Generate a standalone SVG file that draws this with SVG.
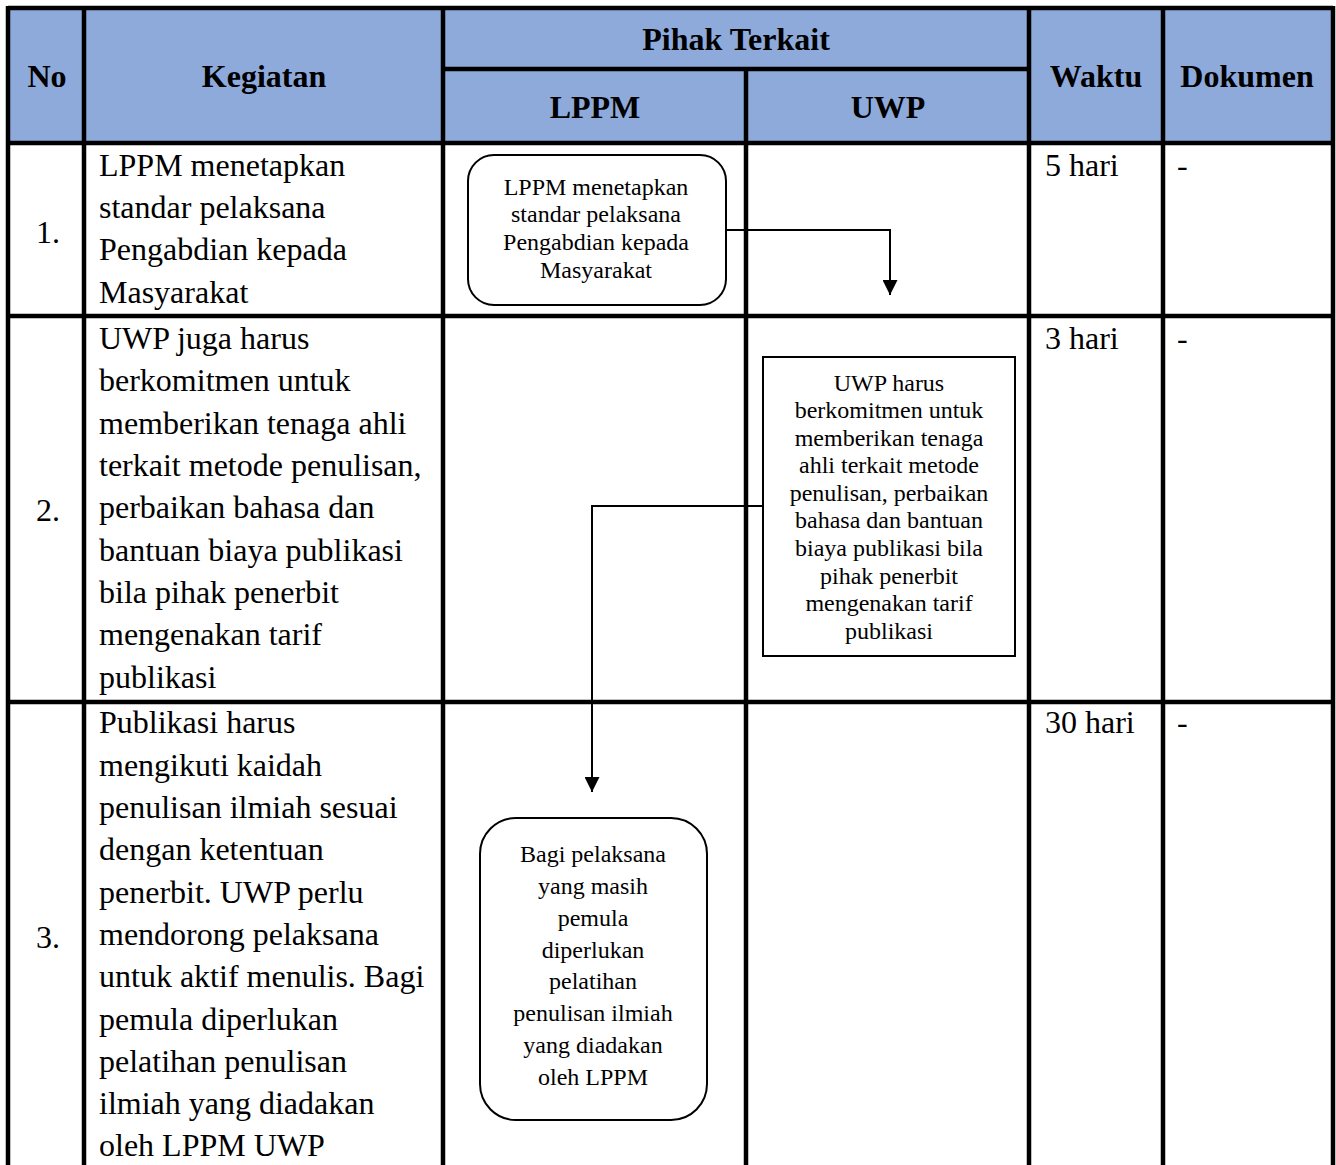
<svg xmlns="http://www.w3.org/2000/svg" width="1336" height="1165" viewBox="0 0 1336 1165">
<style>
.grid{stroke:#000;stroke-width:4.5;fill:none}
.hdr{font-family:"Liberation Serif","Times New Roman",serif;font-weight:bold;font-size:32px;fill:#000;text-anchor:middle}
.body{font-family:"Liberation Serif","Times New Roman",serif;font-size:32px;fill:#000}
.box{fill:#fff;stroke:#000;stroke-width:2}
.bt{font-family:"Liberation Serif","Times New Roman",serif;font-size:24px;fill:#000;text-anchor:middle}
.conn{stroke:#000;stroke-width:2;fill:none}
</style>
<defs>
<marker id="arr" markerUnits="userSpaceOnUse" markerWidth="16" markerHeight="15" refX="15" refY="7.5" orient="auto">
<path d="M0,0 L15,7.5 L0,15 z" fill="#000"/>
</marker>
</defs>
<rect width="1336" height="1165" fill="#fff"/>
<g id="table">
<rect x="8" y="8" width="1325" height="135" fill="#8eaadb"/>
<path class="grid" d="M8,8 H1333 M8,143 H1333 M444,69 H1029 M8,316 H1333 M8,702 H1333 M8,6 V1165 M84,6 V1165 M443,6 V1165 M746,69 V1165 M1029,6 V1165 M1163,6 V1165 M1333,6 V1165"/>
<text class="hdr" x="47" y="87">No</text>
<text class="hdr" x="264" y="87">Kegiatan</text>
<text class="hdr" x="736" y="50">Pihak Terkait</text>
<text class="hdr" x="595" y="118">LPPM</text>
<text class="hdr" x="888" y="118">UWP</text>
<text class="hdr" x="1096" y="87">Waktu</text>
<text class="hdr" x="1247" y="87">Dokumen</text>
<text class="body" x="36" y="243">1.</text>
<text class="body" x="36" y="521">2.</text>
<text class="body" x="36" y="948">3.</text>
<text class="body"><tspan x="99" y="176">LPPM menetapkan</tspan><tspan x="99" y="218">standar pelaksana</tspan><tspan x="99" y="260">Pengabdian kepada</tspan><tspan x="99" y="303">Masyarakat</tspan></text>
<text class="body"><tspan x="99" y="349">UWP juga harus</tspan><tspan x="99" y="391">berkomitmen untuk</tspan><tspan x="99" y="434">memberikan tenaga ahli</tspan><tspan x="99" y="476">terkait metode penulisan,</tspan><tspan x="99" y="518">perbaikan bahasa dan</tspan><tspan x="99" y="561">bantuan biaya publikasi</tspan><tspan x="99" y="603">bila pihak penerbit</tspan><tspan x="99" y="645">mengenakan tarif</tspan><tspan x="99" y="688">publikasi</tspan></text>
<text class="body"><tspan x="99" y="733">Publikasi harus</tspan><tspan x="99" y="776">mengikuti kaidah</tspan><tspan x="99" y="818">penulisan ilmiah sesuai</tspan><tspan x="99" y="860">dengan ketentuan</tspan><tspan x="99" y="903">penerbit. UWP perlu</tspan><tspan x="99" y="945">mendorong pelaksana</tspan><tspan x="99" y="987">untuk aktif menulis. Bagi</tspan><tspan x="99" y="1030">pemula diperlukan</tspan><tspan x="99" y="1072">pelatihan penulisan</tspan><tspan x="99" y="1114">ilmiah yang diadakan</tspan><tspan x="99" y="1156">oleh LPPM UWP</tspan></text>
<text class="body" x="1045" y="176">5 hari</text>
<text class="body" x="1045" y="349">3 hari</text>
<text class="body" x="1045" y="733">30 hari</text>
<text class="body" x="1177" y="176">-</text>
<text class="body" x="1177" y="349">-</text>
<text class="body" x="1177" y="733">-</text>
</g>
<g id="connectors">
<path class="conn" d="M726,230 H890 V295" marker-end="url(#arr)"/>
<path class="conn" d="M763,506 H592 V792" marker-end="url(#arr)"/>
</g>
<g id="node1">
<rect class="box" x="468" y="155" width="258" height="150" rx="26" ry="26"/>
<text class="bt"><tspan x="596" y="195">LPPM menetapkan</tspan><tspan x="596" y="222">standar pelaksana</tspan><tspan x="596" y="250">Pengabdian kepada</tspan><tspan x="596" y="278">Masyarakat</tspan></text>
</g>
<g id="node2">
<rect class="box" x="763" y="357" width="252" height="299"/>
<text class="bt"><tspan x="889" y="391">UWP harus</tspan><tspan x="889" y="418">berkomitmen untuk</tspan><tspan x="889" y="446">memberikan tenaga</tspan><tspan x="889" y="473">ahli terkait metode</tspan><tspan x="889" y="501">penulisan, perbaikan</tspan><tspan x="889" y="528">bahasa dan bantuan</tspan><tspan x="889" y="556">biaya publikasi bila</tspan><tspan x="889" y="584">pihak penerbit</tspan><tspan x="889" y="611">mengenakan tarif</tspan><tspan x="889" y="639">publikasi</tspan></text>
</g>
<g id="node3">
<rect class="box" x="480" y="818" width="227" height="302" rx="36" ry="36"/>
<text class="bt"><tspan x="593" y="862">Bagi pelaksana</tspan><tspan x="593" y="894">yang masih</tspan><tspan x="593" y="926">pemula</tspan><tspan x="593" y="958">diperlukan</tspan><tspan x="593" y="989">pelatihan</tspan><tspan x="593" y="1021">penulisan ilmiah</tspan><tspan x="593" y="1053">yang diadakan</tspan><tspan x="593" y="1085">oleh LPPM</tspan></text>
</g>
</svg>
